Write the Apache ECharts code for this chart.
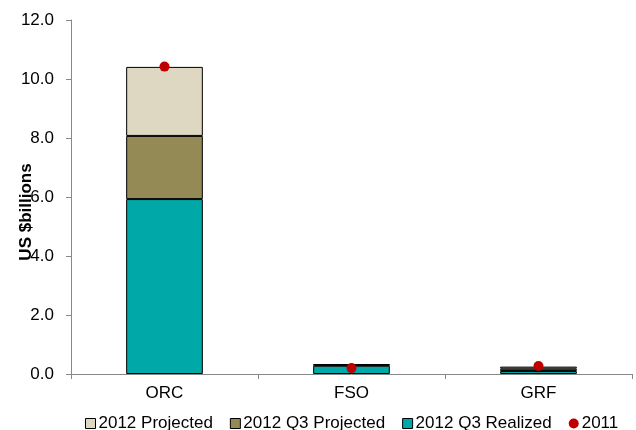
<!DOCTYPE html>
<html>
<head>
<meta charset="utf-8">
<script src="https://cdn.jsdelivr.net/npm/echarts@6/dist/echarts.min.js"></script>
<style>
  html, body { margin: 0; padding: 0; background: #fff; }
  #chart { width: 636px; height: 430px; }
</style>
</head>
<body>
<div id="chart"></div>
<script>
// Funding by program, US $ billions
const categories = ['ORC', 'FSO', 'GRF'];
const realizedQ3 = [5.93, 0.28, 0.10];   // 2012 Q3 Realized
const projectedQ3 = [2.14, 0.03, 0.08];  // 2012 Q3 Projected
const projected2012 = [2.34, 0.02, 0.07]; // 2012 Projected
const values2011 = [10.42, 0.20, 0.27];  // 2011
const yTicks = [0, 2, 4, 6, 8, 10, 12];

const font = 'Liberation Sans, Arial, sans-serif';
const fs = 17;
const chart = echarts.init(document.getElementById('chart'), null, { renderer: 'canvas' });

const barStyle = (color) => ({ color: color, borderColor: '#000', borderWidth: 1 });

chart.setOption({
  animation: false,
  textStyle: { fontFamily: font },
  grid: {
    left: 71, right: 4, top: 20, bottom: 56,
    containLabel: false, outerBoundsMode: 'none'
  },
  legend: {
    top: 410,
    left: 80,
    itemWidth: 10,
    itemHeight: 10,
    itemGap: 17,
    textStyle: { fontFamily: font, fontSize: fs, color: '#000', padding: [0, 0, 0, -2] },
    data: [
      { name: '2012 Projected', icon: 'rect', itemStyle: { borderColor: '#000', borderWidth: 1 } },
      { name: '2012 Q3 Projected', icon: 'rect', itemStyle: { borderColor: '#000', borderWidth: 1 } },
      { name: '2012 Q3 Realized', icon: 'rect', itemStyle: { borderColor: '#000', borderWidth: 1 } },
      { name: '2011', icon: 'circle', itemStyle: { borderWidth: 0 } }
    ]
  },
  xAxis: {
    type: 'category',
    data: categories,
    axisLine: { lineStyle: { color: '#888', width: 1 } },
    axisTick: { show: true, alignWithLabel: false, length: 5, lineStyle: { color: '#888' } },
    axisLabel: { color: '#000', fontSize: fs, fontFamily: font, margin: 11 }
  },
  yAxis: {
    type: 'value',
    min: 0,
    max: 12,
    interval: 2,
    name: 'US $billions',
    nameLocation: 'middle',
    nameGap: 36,
    nameRotate: 90,
    nameMoveOverlap: false,
    nameTextStyle: {
      fontSize: fs, fontWeight: 'bold', color: '#000', fontFamily: font,
      padding: [0, 30, 0, 0]
    },
    axisLine: { show: true, lineStyle: { color: '#888', width: 1 } },
    axisTick: { show: true, length: 5, lineStyle: { color: '#888' } },
    splitLine: { show: false },
    axisLabel: {
      color: '#000', fontSize: fs, fontFamily: font, margin: 17,
      formatter: (v) => yTicks.includes(v) ? v.toFixed(1) : ''
    }
  },
  series: [
    {
      name: '2012 Q3 Realized', type: 'bar', stack: 'total', barWidth: '41%',
      data: realizedQ3, itemStyle: barStyle('#00A8A8')
    },
    {
      name: '2012 Q3 Projected', type: 'bar', stack: 'total',
      data: projectedQ3, itemStyle: barStyle('#938A55')
    },
    {
      name: '2012 Projected', type: 'bar', stack: 'total',
      data: projected2012, itemStyle: barStyle('#DED8C3')
    },
    {
      name: '2011', type: 'scatter', symbol: 'circle', symbolSize: 10,
      data: values2011, itemStyle: { color: '#C00000', opacity: 1 }, z: 5
    }
  ]
});
</script>
</body>
</html>
